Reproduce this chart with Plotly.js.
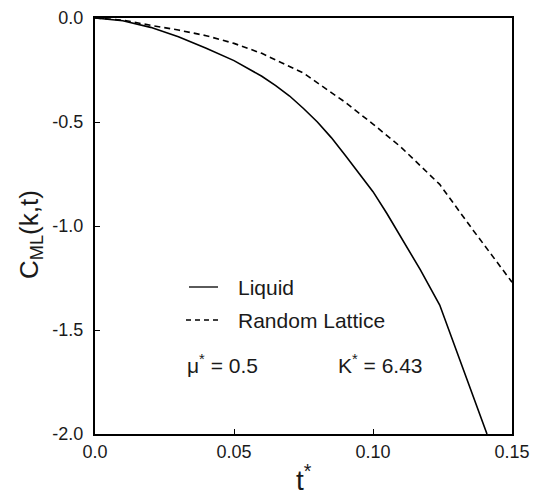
<!DOCTYPE html>
<html>
<head>
<meta charset="utf-8">
<script src="https://cdn.plot.ly/plotly-3.0.1.min.js"></script>
<style>html,body{margin:0;padding:0;background:#fff;}#chart{width:533px;height:495px;}</style>
</head>
<body>
<div id="chart"></div>
<script>
// Data
const liquidT = [0, 0.01, 0.02, 0.03, 0.04, 0.05, 0.06, 0.065, 0.07, 0.075, 0.08, 0.085, 0.09, 0.095, 0.10, 0.105, 0.11, 0.117, 0.124, 0.141];
const liquidC = [0, -0.013, -0.045, -0.09, -0.145, -0.205, -0.28, -0.325, -0.375, -0.435, -0.50, -0.575, -0.66, -0.745, -0.835, -0.94, -1.05, -1.21, -1.38, -2.0];

const latticeT = [0, 0.01, 0.02, 0.03, 0.04, 0.05, 0.06, 0.075, 0.09, 0.10, 0.11, 0.124, 0.136, 0.15];
const latticeC = [0, -0.01, -0.035, -0.058, -0.085, -0.122, -0.17, -0.265, -0.405, -0.51, -0.62, -0.80, -1.02, -1.27];

const xTickVals = [0, 0.05, 0.10, 0.15];
const xTickText = ["0.0", "0.05", "0.10", "0.15"];
const yTickVals = [0, -0.5, -1.0, -1.5, -2.0];
const yTickText = ["0.0", "-0.5", "-1.0", "-1.5", "-2.0"];

const seriesNames = ["Liquid", "Random Lattice"];

const W = 533, H = 495;
const M = {l: 95, r: 21, t: 18, b: 61};
const PW = W - M.l - M.r, PH = H - M.t - M.b;
const px = v => (v - M.l) / PW;
const py = v => (H - M.b - v) / PH;

const FONT = "Liberation Sans, Arial, Helvetica, sans-serif";
const TXT = "#1a1a1a";

const traces = [
  {x: liquidT, y: liquidC, mode: "lines", name: seriesNames[0],
   line: {color: "#000", width: 1.6}, showlegend: false},
  {x: latticeT, y: latticeC, mode: "lines", name: seriesNames[1],
   line: {color: "#000", width: 1.6, dash: "6px,4px"}, showlegend: false}
];

const axisCommon = {
  showgrid: false, zeroline: false, showline: true, mirror: true,
  linecolor: "#000", linewidth: 2, ticks: "inside", ticklen: 5,
  tickwidth: 1, tickcolor: "#000",
  tickfont: {family: FONT, size: 18, color: TXT}
};

const layout = {
  width: W, height: H,
  margin: M,
  paper_bgcolor: "#fff", plot_bgcolor: "#fff",
  showlegend: false,
  xaxis: Object.assign({}, axisCommon, {
    range: [0, 0.15], tickmode: "array", tickvals: xTickVals, ticktext: xTickText
  }),
  yaxis: Object.assign({}, axisCommon, {
    range: [-2.0, 0], tickmode: "array", tickvals: yTickVals, ticktext: yTickText,
    ticklabelstandoff: 6
  }),
  shapes: [
    {type: "line", xref: "paper", yref: "paper", x0: px(189), x1: px(218), y0: py(287), y1: py(287),
     line: {color: "#000", width: 1.3}},
    {type: "line", xref: "paper", yref: "paper", x0: px(186), x1: px(221), y0: py(320), y1: py(320),
     line: {color: "#000", width: 1.3, dash: "5px,4px"}}
  ],
  annotations: [
    {xref: "paper", yref: "paper", x: px(236), y: py(287), xanchor: "left", yanchor: "middle",
     text: seriesNames[0], showarrow: false, font: {family: FONT, size: 21, color: TXT}},
    {xref: "paper", yref: "paper", x: px(236), y: py(320), xanchor: "left", yanchor: "middle",
     text: seriesNames[1], showarrow: false, font: {family: FONT, size: 21, color: TXT}},
    {xref: "paper", yref: "paper", x: px(185), y: py(364), xanchor: "left", yanchor: "middle",
     text: "μ<sup>*</sup> = 0.5", showarrow: false, font: {family: FONT, size: 21, color: TXT}},
    {xref: "paper", yref: "paper", x: px(336), y: py(364), xanchor: "left", yanchor: "middle",
     text: "K<sup>*</sup> = 6.43", showarrow: false, font: {family: FONT, size: 21, color: TXT}},
    {xref: "paper", yref: "paper", x: px(30), y: py(235), xanchor: "center", yanchor: "middle",
     textangle: -90, text: "C<sub>ML</sub>(k,t)", showarrow: false,
     font: {family: FONT, size: 26, color: TXT}},
    {xref: "paper", yref: "paper", x: 0.5, y: py(478), xanchor: "center", yanchor: "middle",
     text: "t<sup>*</sup>", showarrow: false, font: {family: FONT, size: 28, color: TXT}}
  ]
};

Plotly.newPlot("chart", traces, layout, {displayModeBar: false, staticPlot: true});
</script>
</body>
</html>
